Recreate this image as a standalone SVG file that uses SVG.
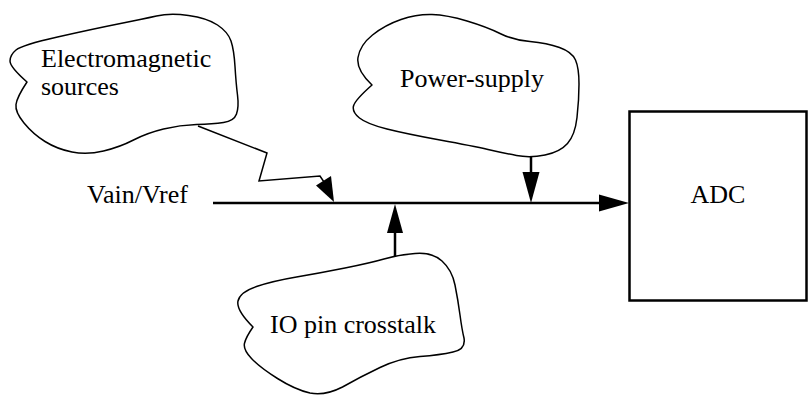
<svg xmlns="http://www.w3.org/2000/svg" width="809" height="397" viewBox="0 0 809 397">
<style>
  .cloud { fill: none; stroke: #000; stroke-width: 1.5; stroke-linejoin: round; }
  .lbl { font-family: "Liberation Serif", "Times New Roman", serif; font-size: 26px; fill: #000; }
  .wire { fill: none; stroke: #000; stroke-width: 2.5; }
  .thin { fill: none; stroke: #000; stroke-width: 1.5; stroke-linejoin: miter; }
  .head { fill: #000; stroke: none; }
  .box { fill: none; stroke: #000; stroke-width: 2.5; }
</style>
<rect width="809" height="397" fill="#fff"/>
<g id="em-sources">
  <path class="cloud" d="M27,82 Q10,67 10,61 Q10,55 16,50 Q22,45 57.5,37 Q93,29 118,24 Q143,19 156.5,16 Q170,13 188.5,15.5 Q207,18 217.5,25 Q228,32 231,41 Q234,50 235,66.5 Q236,83 237.5,95 Q239,107 236.5,114 Q234,121 223.5,122.5 Q213,124 196.5,124.5 Q180,125 163.5,129 Q147,133 133.5,140 Q120,147 103.5,151 Q87,155 72,152 Q57,149 45,141.5 Q33,134 24,123 Q15,112 16,104.5 Q17,97 27,82 Z"/>
  <text class="lbl" x="41" y="67">Electromagnetic</text>
  <text class="lbl" x="41" y="95">sources</text>
</g>
<g id="power-supply">
  <path class="cloud" d="M372,85 Q356,70 358,57.5 Q360,45 372.5,35 Q385,25 401,19.5 Q417,14 432,14.5 Q447,15 467,21 Q487,27 500,33.5 Q513,40 530,41.5 Q547,43 559.5,47.5 Q572,52 575.5,60 Q579,68 579,84 Q579,100 577,117.5 Q575,135 567.5,143.5 Q560,152 545,155 Q530,158 516.5,155.5 Q503,153 488,149.5 Q473,146 440,140 Q407,134 387,129 Q367,124 359.5,118 Q352,112 353.5,106 Q355,100 372,85 Z"/>
  <text class="lbl" x="400" y="87">Power-supply</text>
</g>
<g id="io-crosstalk">
  <path class="cloud" d="M253,327 Q236,310 238,301 Q240,292 256.5,286.5 Q273,281 296.5,277 Q320,273 345,268 Q370,263 384,259 Q398,255 415,253.5 Q432,252 442,261 Q452,270 455,285 Q458,300 460,315 Q462,330 464,338 Q466,349.5 453,352 Q440,355 420,356.5 Q400,358 380,367.5 Q360,377 342.5,387 Q325,396 310,393 Q295,389.6 277.5,378.5 Q260,367.5 251.5,358.5 Q243,349.5 244.5,343.3 Q246,337 253,327 Z"/>
  <text class="lbl" x="270" y="333">IO pin crosstalk</text>
</g>
<g id="adc">
  <rect class="box" x="629.5" y="111.5" width="177" height="189"/>
  <text class="lbl" x="718" y="203" text-anchor="middle">ADC</text>
</g>
<g id="input-label">
  <text class="lbl" x="87" y="203">Vain/Vref</text>
</g>
<g id="connectors">
  <line class="wire" x1="213" y1="203" x2="601" y2="203"/>
  <polygon class="head" points="599,194.5 629,203 599,211.5"/>
  <line class="wire" x1="531" y1="157" x2="531" y2="174"/>
  <polygon class="head" points="522.5,172 539.5,172 531,203"/>
  <line class="wire" x1="395" y1="256" x2="395" y2="231"/>
  <polygon class="head" points="387,233 403,233 395,204"/>
  <polyline class="thin" points="198,126 267,153 259,181 320,176 324,182"/>
  <polygon class="head" points="316,185.5 331,176 334,202"/>
</g>
</svg>
